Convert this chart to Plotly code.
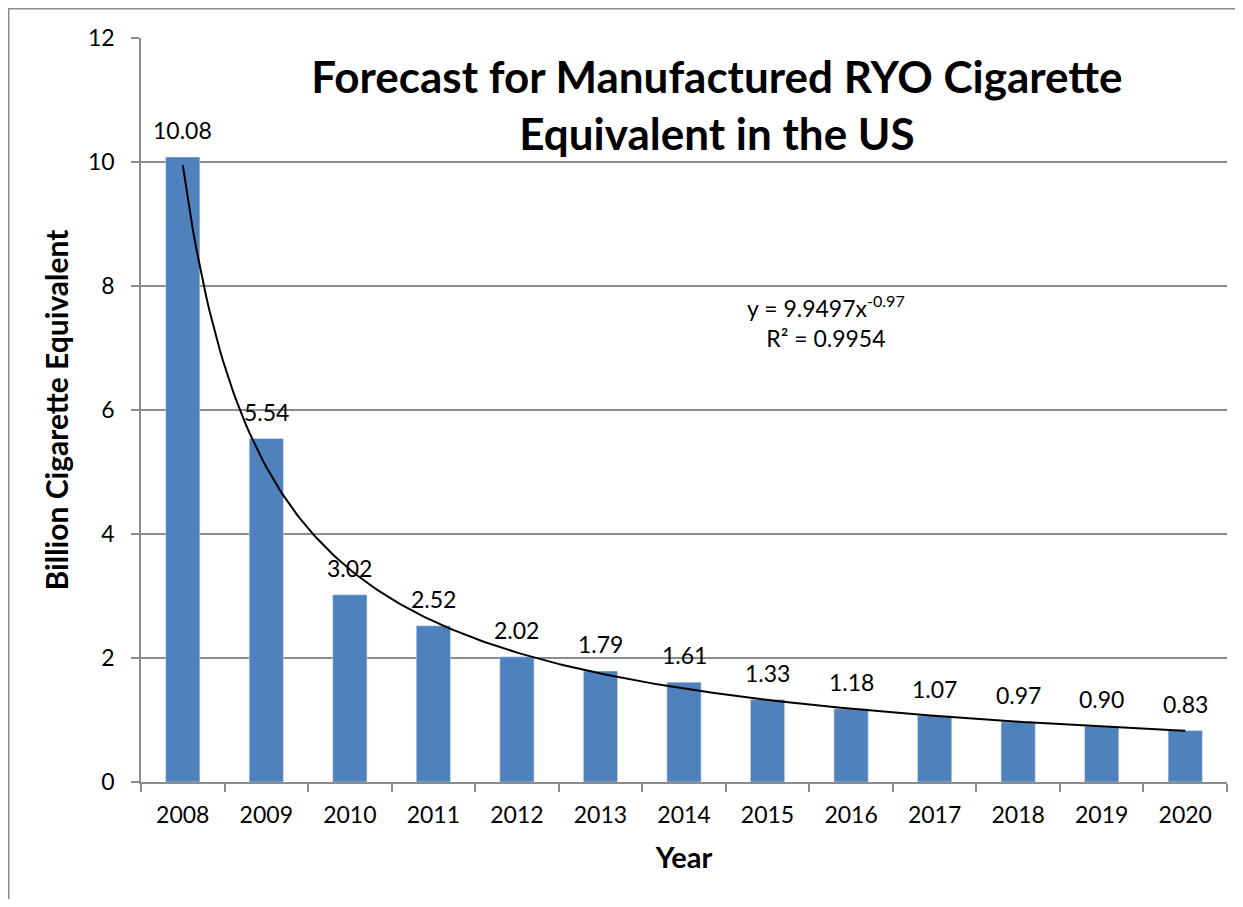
import numpy as np
import plotly.graph_objects as go

years = ["2008", "2009", "2010", "2011", "2012", "2013", "2014",
         "2015", "2016", "2017", "2018", "2019", "2020"]
values = [10.08, 5.54, 3.02, 2.52, 2.02, 1.79, 1.61,
          1.33, 1.18, 1.07, 0.97, 0.90, 0.83]
labels = ["10.08", "5.54", "3.02", "2.52", "2.02", "1.79", "1.61",
          "1.33", "1.18", "1.07", "0.97", "0.90", "0.83"]
# Power trendline shown in the chart: y = 9.9497 x^-0.97
trend_coef = 9.9497
trend_exp = -0.97

FONT = "Lato"
GRID = "#8c8c8c"

W, H = 1227, 891          # page body has an 8px margin
L, T = 133, 30
R, B = 8, 117
PW = W - L - R
PH = H - T - B

fig = go.Figure()
fig.add_trace(go.Bar(x=years, y=values, marker_color="#4F81BD",
                     width=0.41, showlegend=False, hoverinfo="x+y"))

tx = np.linspace(1, len(years), 300)
ty = trend_coef * tx ** trend_exp
fig.add_trace(go.Scatter(x=tx, y=ty, xaxis="x2", mode="lines",
                         line=dict(color="black", width=2), showlegend=False,
                         hoverinfo="skip"))

for i, (v, lab) in enumerate(zip(values, labels)):
    fig.add_annotation(x=i, y=v, xref="x", yref="y", text=lab, showarrow=False,
                       yanchor="bottom", yshift=11,
                       font=dict(family=FONT, size=23, color="black"))

fig.add_annotation(xref="paper", yref="paper", x=(826 - 141) / PW, y=(782 - 321) / PH,
                   text="y = 9.9497x<sup>-0.97</sup><br>R² = 0.9954",
                   showarrow=False, align="center",
                   font=dict(family=FONT, size=23, color="black"))

fig.add_shape(type="rect", xref="paper", yref="paper",
              x0=(8.75 - 141) / PW, x1=(1300 - 141) / PW,
              y0=(782 - 960) / PH, y1=(782 - 8.75) / PH,
              line=dict(color="#8c8c8c", width=1.5), layer="below")

fig.update_layout(
    width=W, height=H,
    margin=dict(l=L, r=R, t=T, b=B),
    paper_bgcolor="white", plot_bgcolor="white",
    font=dict(family=FONT, color="black"),
    title=dict(text="<b>Forecast for Manufactured RYO Cigarette<br>Equivalent in the US</b>",
               x=(717 - 8) / W, xanchor="center", y=1 - (93 - 8) / H, yanchor="middle",
               yref="container", font=dict(family=FONT, size=44, color="black")),
    xaxis=dict(type="category", range=[-0.5, 12.5], tickson="boundaries",
               ticks="outside", ticklen=8, tickcolor=GRID, tickwidth=1.5,
               showline=True, linecolor=GRID, linewidth=1.5, showgrid=False,
               tickfont=dict(family=FONT, size=23), ticklabelstandoff=12,
               title=dict(text="<b>Year</b>", font=dict(family=FONT, size=29), standoff=20)),
    xaxis2=dict(overlaying="x", range=[0.5, 13.5], visible=False),
    yaxis=dict(range=[0, 12], dtick=2, ticks="outside", ticklen=8, tickcolor=GRID,
               tickwidth=1.5, showline=True, linecolor=GRID, linewidth=1.5,
               showgrid=True, gridcolor=GRID, gridwidth=1.5, zeroline=False,
               tickfont=dict(family=FONT, size=23), ticklabelstandoff=12,
               title=dict(text="<b>Billion Cigarette Equivalent</b>",
                          font=dict(family=FONT, size=30), standoff=10)),
)

fig.write_html("out.html")
